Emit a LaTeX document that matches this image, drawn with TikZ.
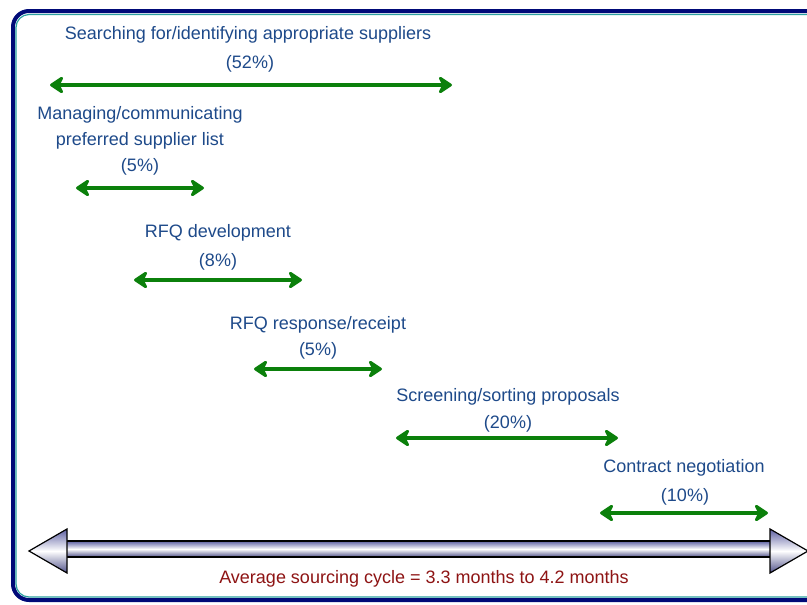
\documentclass[tikz,border=0pt]{standalone}
\usepackage{fontspec}
\setmainfont{Liberation Sans}
\usepackage{tikz}
\usetikzlibrary{arrows.meta, positioning, shadings}
\definecolor{labelblue}{HTML}{1E4A8A}
\definecolor{phasegreen}{HTML}{0B800B}
\definecolor{cyclered}{HTML}{8E1414}
\definecolor{framenavy}{HTML}{000A78}
\definecolor{frameteal}{HTML}{2AA0A0}
\definecolor{barlilac}{HTML}{5E60A2}

\begin{document}
\begin{tikzpicture}[x=1pt, y=-1pt,
  phase/.style={{Stealth[length=16pt,width=21pt,inset=5pt,round]}-{Stealth[length=16pt,width=21pt,inset=5pt,round]}, line width=4.5pt, phasegreen},
  lbl/.style={text=labelblue, font=\fontsize{18}{26}\selectfont, align=center, inner sep=0pt},
  barpart/.style={draw=black, line width=1.2pt, top color=barlilac, bottom color=barlilac!85!black, middle color=white}]
  \clip (0,0) rectangle (807,605);
  \fill[white] (0,0) rectangle (807,605);
  \draw[framenavy, line width=4pt, rounded corners=16pt] (13,11) rectangle (840,600);
  \draw[frameteal, line width=1.2pt, rounded corners=13pt] (16,14.5) rectangle (840,597);

  % phase labels
  \node[lbl] (search) at (248,35) {Searching for/identifying appropriate suppliers};
  \node[lbl] (searchpct) at (250,64) {(52\%)};
  \node[lbl] (manage) at (140,128) {Managing/communicating\\preferred supplier list};
  \node[lbl] (managepct) at (140,167) {(5\%)};
  \node[lbl] (rfqdev) at (218,233) {RFQ development};
  \node[lbl] (rfqdevpct) at (218,262) {(8\%)};
  \node[lbl] (rfqresp) at (318,325) {RFQ response/receipt};
  \node[lbl] (rfqresppct) at (318,351) {(5\%)};
  \node[lbl] (screen) at (508,397) {Screening/sorting proposals};
  \node[lbl] (screenpct) at (508,424) {(20\%)};
  \node[lbl] (contract) at (684,468) {Contract negotiation};
  \node[lbl] (contractpct) at (685,497) {(10\%)};

  % phase arrows
  \coordinate (searchL) at (50,85);   \coordinate (searchR) at (452,85);
  \coordinate (manageL) at (76,188);  \coordinate (manageR) at (204,188);
  \coordinate (rfqdevL) at (134,280); \coordinate (rfqdevR) at (302,280);
  \coordinate (rfqrespL) at (254,369); \coordinate (rfqrespR) at (382,369);
  \coordinate (screenL) at (396,438); \coordinate (screenR) at (618,438);
  \coordinate (contractL) at (600,513); \coordinate (contractR) at (768,513);
  \draw[phase] (searchL) -- (searchR);
  \draw[phase] (manageL) -- (manageR);
  \draw[phase] (rfqdevL) -- (rfqdevR);
  \draw[phase] (rfqrespL) -- (rfqrespR);
  \draw[phase] (screenL) -- (screenR);
  \draw[phase] (contractL) -- (contractR);

  % sourcing cycle bar
  \shade[barpart] (66,541) rectangle (771,557);
  \shade[barpart] (67,529) -- (29,551) -- (67,573) -- cycle;
  \shade[barpart] (770,529) -- (808,551) -- (770,573) -- cycle;
  \node[lbl, text=cyclered] (cycle) at (424,579) {Average sourcing cycle = 3.3 months to 4.2 months};
\end{tikzpicture}
\end{document}
